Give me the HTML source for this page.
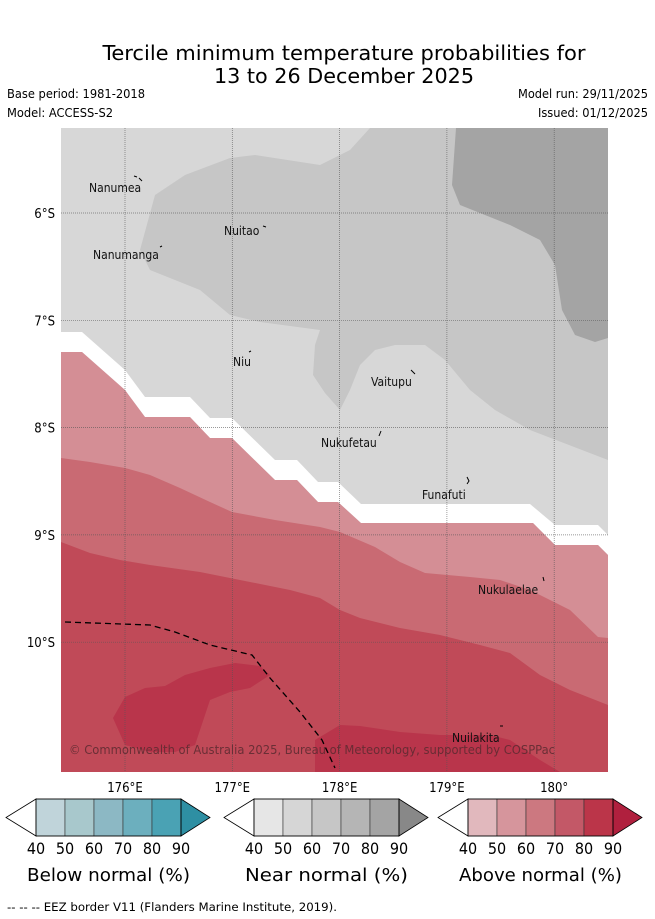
<!DOCTYPE html>
<html><head><meta charset="utf-8"><style>
body{margin:0;background:#fff;}
svg{display:block;font-family:"DejaVu Sans Condensed","DejaVu Sans","Liberation Sans",sans-serif;}
</style></head><body>
<svg id="fig" width="655" height="919" viewBox="0 0 655 919">
<text x="344" y="60" font-size="20" text-anchor="middle" textLength="483" lengthAdjust="spacingAndGlyphs">Tercile minimum temperature probabilities for</text>
<text x="344" y="83" font-size="20" text-anchor="middle" textLength="260" lengthAdjust="spacingAndGlyphs">13 to 26 December 2025</text>
<text x="7" y="98" font-size="12" textLength="138" lengthAdjust="spacingAndGlyphs">Base period: 1981-2018</text>
<text x="7" y="117" font-size="12" textLength="106" lengthAdjust="spacingAndGlyphs">Model: ACCESS-S2</text>
<text x="648" y="98" font-size="12" text-anchor="end" textLength="130" lengthAdjust="spacingAndGlyphs">Model run: 29/11/2025</text>
<text x="648" y="117" font-size="12" text-anchor="end" textLength="110" lengthAdjust="spacingAndGlyphs">Issued: 01/12/2025</text>

<defs><clipPath id="mc"><rect x="61" y="128" width="547" height="644"/></clipPath></defs>
<g clip-path="url(#mc)">
<rect x="61" y="128" width="547" height="644" fill="#d7d7d7"/>
<polygon fill="#c6c6c6" points="370,128 350,150 320,165 255,155 230,158 185,175 155,195 140,250 150,270 200,290 230,315 260,322 320,330 315,345 313,375 325,393 340,410 350,390 360,365 375,350 395,345 425,345 445,360 470,390 495,410 530,430 608,460 608,128"/>
<polygon fill="#a4a4a4" points="456,128 452,185 460,205 510,225 540,240 555,265 562,310 575,335 595,342 608,338 608,128"/>
<polygon fill="#ffffff" points="61,332 82,332 125,370 145,397 190,397 210,418 232,418 275,460 297,460 318,482 338,482 361,504 530,504 555,525 598,525 608,535 608,555 598,545 555,545 533,523 361,523 338,502 318,502 297,480 275,480 232,438 210,438 190,417 145,417 125,390 82,352 61,352"/>
<polygon fill="#d48e95" points="61,352 82,352 125,390 145,417 190,417 210,438 232,438 275,480 297,480 318,502 338,502 361,523 533,523 555,545 598,545 608,555 608,772 61,772"/>
<polygon fill="#c96a73" points="61,458 90,462 125,468 150,475 180,488 210,502 232,512 275,520 320,527 340,532 375,547 400,562 425,573 470,577 500,580 530,590 570,610 598,637 608,638 608,772 61,772"/>
<polygon fill="#c04a58" points="61,542 90,553 120,560 150,565 200,572 240,580 290,590 320,598 340,610 360,618 400,628 440,635 480,645 510,653 540,675 570,690 608,705 608,772 61,772"/>
<polygon fill="#b9354b" points="113,718 125,697 145,688 165,686 185,675 210,668 235,663 260,666 270,675 250,688 230,692 210,700 200,730 195,745 175,752 150,752 125,745"/>
<polygon fill="#b9354b" points="315,740 340,725 360,726 400,732 440,735 490,735 510,740 540,760 560,772 315,772"/>
<g id="grid"></g>
<polyline fill="none" stroke="#000" stroke-width="1.3" stroke-dasharray="6,4" points="65,622 150,625 175,632 210,645 252,655 270,678 300,712 322,740 335,768"/>
<g font-size="12" fill="#111">
<text x="89" y="192">Nanumea</text>
<text x="224" y="235">Nuitao</text>
<text x="93" y="259">Nanumanga</text>
<text x="233" y="366">Niu</text>
<text x="371" y="386">Vaitupu</text>
<text x="321" y="447">Nukufetau</text>
<text x="422" y="499">Funafuti</text>
<text x="478" y="594">Nukulaelae</text>
<text x="452" y="742">Nuilakita</text>
</g>
<g stroke="#000" stroke-width="1" fill="none">
<path d="M134,176 l3,1 M139,178 l3,3"/><path d="M263,226 l3,1"/><path d="M160,247 l2,-1"/><path d="M249,352 l2,-1"/><path d="M411,370 l4,4"/><path d="M379,436 l2,-5"/><path d="M467,477 l2,4 l-2,3"/><path d="M543,577 l1,4"/><path d="M500,726 l3,0"/>
</g>
<text x="69" y="754" font-size="12" fill="#5a2a30" fill-opacity="0.85" textLength="486" lengthAdjust="spacingAndGlyphs">© Commonwealth of Australia 2025, Bureau of Meteorology, supported by COSPPac</text>
</g>
<g id="axes"></g>
<g id="cbars"></g>
<text x="7" y="911" font-size="11.5" textLength="330" lengthAdjust="spacingAndGlyphs">--  --  -- EEZ border V11 (Flanders Marine Institute, 2019).</text>
</svg>
<script>
const lonTicks=[176,177,178,179,180];
const lonLabels=["176°E","177°E","178°E","179°E","180°"];
const latTicks=[6,7,8,9,10];
const latLabels=["6°S","7°S","8°S","9°S","10°S"];
const cbarLevels=[40,50,60,70,80,90];
const belowColors=["#c0d4da","#a8c8cc","#8cb8c4","#6cafbe","#4aa2b4"];
const nearColors=["#e6e6e6","#d6d6d6","#c6c6c6","#b5b5b5","#a4a4a4"];
const aboveColors=["#e1b8bd","#d6959c","#cc7880","#c35867","#bb3549"];
const overColors=["#2e8fa3","#888888","#b0203e"];
const cbarTitles=["Below normal (%)","Near normal (%)","Above normal (%)"];
const NS="http://www.w3.org/2000/svg";
function xLon(l){return 125+(l-176)*107.3;}
function yLat(l){return 213+(l-6)*107.3;}
function mk(t,a,p){const e=document.createElementNS(NS,t);for(const k in a)e.setAttribute(k,a[k]);p.appendChild(e);return e;}
const grid=document.getElementById('grid'),axes=document.getElementById('axes');
lonTicks.forEach((l,i)=>{const x=xLon(l);
 const g=mk('line',{x1:x,x2:x,y1:128,y2:772,stroke:'#555','stroke-width':0.7,'stroke-dasharray':'1,1','stroke-opacity':0.8},grid);
 
 
 const t=mk('text',{x:x,y:792,'font-size':13,'text-anchor':'middle'},axes);t.textContent=lonLabels[i];
 
 });
latTicks.forEach((l,i)=>{const y=yLat(l);
 const g=mk('line',{x1:61,x2:608,y1:y,y2:y,stroke:'#555','stroke-width':0.7,'stroke-dasharray':'1,1','stroke-opacity':0.8},grid);
 
 
 const t=mk('text',{x:55,y:y+5,'font-size':13,'text-anchor':'end'},axes);t.textContent=latLabels[i];
 
 });
const cb=document.getElementById('cbars');
const sets=[belowColors,nearColors,aboveColors],starts=[36,254,468];
sets.forEach((cols,s)=>{const x0=starts[s],w=145,y0=799,h=37,step=w/(cbarLevels.length-1);
 const g=mk('g',{},cb);
 const lt=mk('polygon',{points:`${x0},${y0} ${x0-30},${y0+h/2} ${x0},${y0+h}`,fill:'#fff',stroke:'#000','stroke-width':0.8},g);
 
 
 cols.forEach((c,i)=>{const r=mk('rect',{x:x0+i*step,y:y0,width:step,height:h,fill:c,stroke:'#333','stroke-width':0.6},g);
  
  });
 const rt=mk('polygon',{points:`${x0+w},${y0} ${x0+w+29},${y0+h/2} ${x0+w},${y0+h}`,fill:overColors[s],stroke:'#000','stroke-width':0.8},g);
 
 
 mk('rect',{x:x0,y:y0,width:w,height:h,fill:'none',stroke:'#000','stroke-width':0.8},g);
 cbarLevels.forEach((v,i)=>{const t=mk('text',{x:x0+i*step,y:854,'font-size':16,'text-anchor':'middle'},g);t.textContent=v;
  
  });
 const tt=mk('text',{x:x0+w/2,y:881,'font-size':18,'text-anchor':'middle',textLength:163,lengthAdjust:'spacingAndGlyphs'},g);tt.textContent=cbarTitles[s];
 
 
});
</script>
</body></html>
